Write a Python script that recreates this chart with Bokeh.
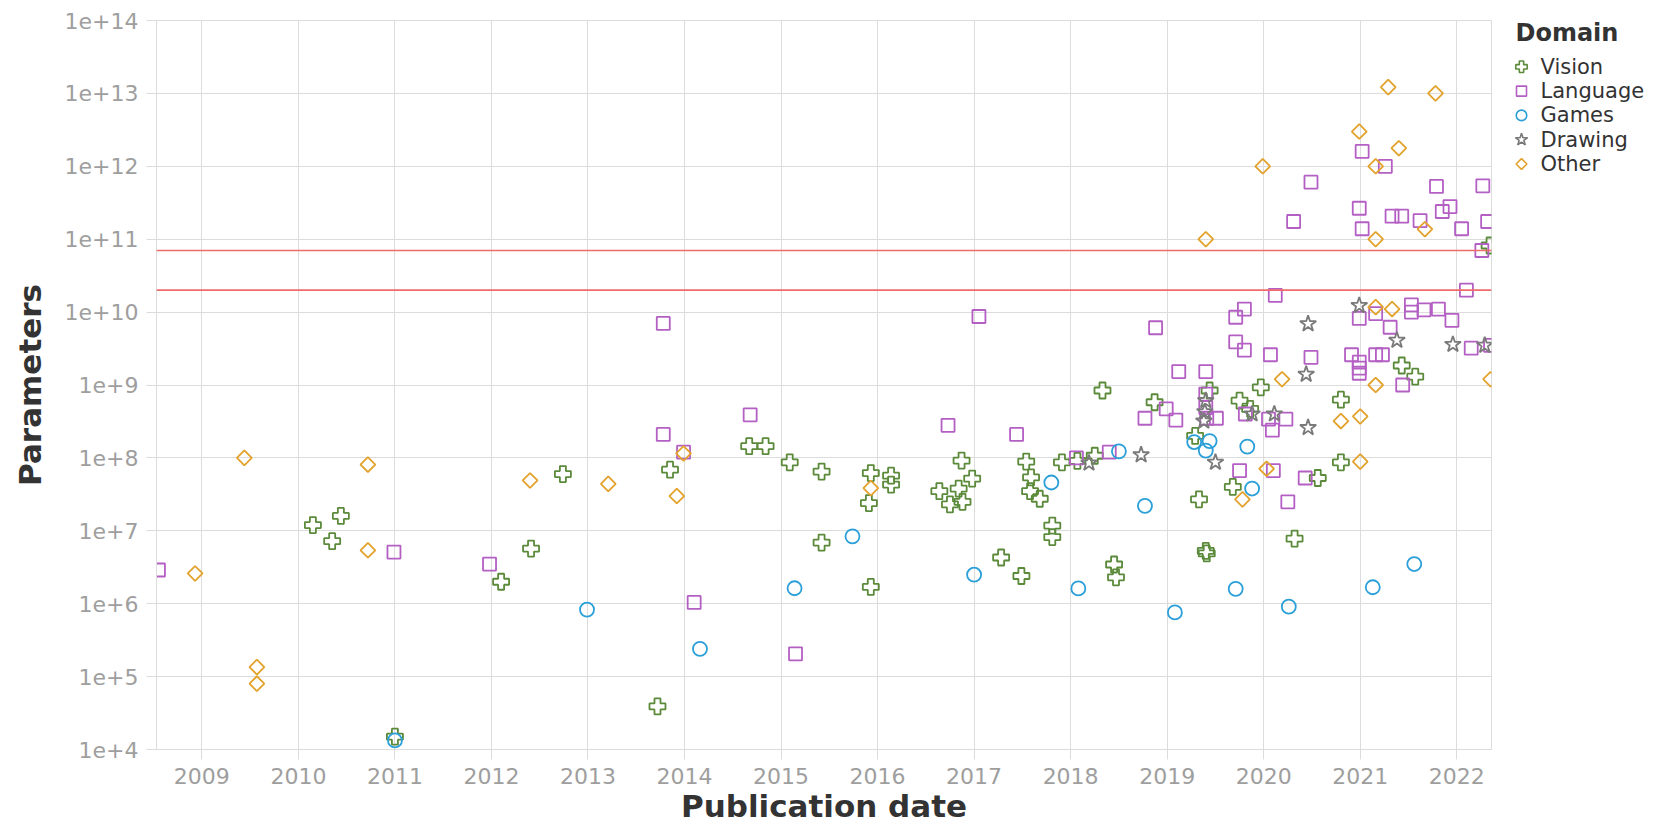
import math
from bokeh.plotting import figure
from bokeh.layouts import row
from bokeh.models import (Range1d, FixedTicker, CustomJSTickFormatter, PrintfTickFormatter, Span)
from bokeh.core.properties import value
from bokeh.embed import file_html
from bokeh.resources import INLINE

# ---- data (decimal publication year, parameter count) ----
vision_date = [2010.15, 2010.35, 2010.44, 2011.00, 2012.10, 2012.41, 2012.74, 2013.72, 2013.85,
               2014.67, 2014.84, 2015.09, 2015.42, 2015.42, 2015.93, 2015.91, 2015.93, 2016.14,
               2016.14, 2016.64, 2016.75, 2016.84, 2016.88, 2016.87, 2016.98, 2017.28, 2017.49,
               2017.54, 2017.59, 2017.58, 2017.68, 2017.81, 2017.81, 2017.91, 2018.07, 2018.25,
               2018.33, 2018.45, 2018.47, 2018.87, 2019.33, 2019.29, 2019.40, 2019.41, 2019.44,
               2019.68, 2019.75, 2019.86, 2019.97, 2020.32, 2020.56, 2020.80, 2020.80, 2021.43,
               2021.57, 2022.34]
vision_params = [1.2e7, 7.2e6, 1.6e7, 1.5e4, 2.0e6, 5.7e6, 6.0e7, 3.9e4, 6.9e7,
                 1.45e8, 1.45e8, 8.7e7, 6.5e7, 6.9e6, 6.2e7, 2.4e7, 1.7e6, 5.7e7,
                 4.3e7, 3.5e7, 2.3e7, 3.8e7, 2.5e7, 9.2e7, 5.2e7, 4.3e6, 2.4e6,
                 8.9e7, 5.4e7, 3.5e7, 2.75e7, 1.18e7, 8.2e6, 8.7e7, 9.1e7, 1.07e8,
                 8.4e8, 3.45e6, 2.3e6, 5.8e8, 2.7e7, 2.0e8, 5.3e6, 4.9e6, 8.4e8,
                 4.0e7, 6.1e8, 4.7e8, 9.3e8, 7.8e6, 5.3e7, 8.7e7, 6.3e8, 1.85e9,
                 1.3e9, 8.2e10]

language_date = [2008.55, 2010.99, 2011.98, 2013.78, 2013.78, 2013.99, 2014.10, 2014.68, 2015.15,
                 2016.73, 2017.05, 2017.44, 2018.06, 2018.40, 2018.77, 2018.88, 2018.99, 2019.09,
                 2019.12, 2019.40, 2019.40, 2019.40, 2019.41, 2019.51, 2019.71, 2019.80, 2019.71,
                 2019.80, 2019.81, 2019.75, 2020.07, 2020.12, 2020.05, 2020.09, 2020.10, 2020.23,
                 2020.25, 2020.31, 2020.43, 2020.49, 2020.49, 2020.91, 2020.99, 2021.02, 2021.02,
                 2020.99, 2020.99, 2020.99, 2020.99, 2021.16, 2021.16, 2021.23, 2021.26, 2021.33,
                 2021.43, 2021.31, 2021.44, 2021.53, 2021.53, 2021.62, 2021.66, 2021.79, 2021.81,
                 2021.85, 2021.93, 2021.95, 2022.05, 2022.10, 2022.15, 2022.26, 2022.27, 2022.32,
                 2022.35]
language_params = [2.9e6, 5.1e6, 3.5e6, 7.0e9, 2.1e8, 1.2e8, 1.04e6, 3.9e8, 2.05e5,
                   2.8e8, 8.7e9, 2.1e8, 1.0e8, 1.2e8, 3.5e8, 6.1e9, 4.7e8, 3.3e8,
                   1.53e9, 1.53e9, 7.5e8, 4.9e8, 3.5e8, 3.5e8, 8.5e9, 1.1e10, 3.9e9,
                   3.0e9, 4.0e8, 6.7e7, 2.6e9, 1.7e10, 3.4e8, 2.4e8, 6.7e7, 3.4e8,
                   2.5e7, 1.75e11, 5.3e7, 6.05e11, 2.4e9, 2.6e9, 2.66e11, 1.6e12, 1.39e11,
                   8.2e9, 2.06e9, 1.7e9, 1.45e9, 9.5e9, 2.6e9, 2.6e9, 1.0e12, 2.07e11,
                   2.07e11, 6.2e9, 1.0e9, 1.26e10, 1.0e10, 1.8e11, 1.07e10, 5.3e11, 1.1e10,
                   2.4e11, 2.8e11, 7.7e9, 1.39e11, 2.0e10, 3.2e9, 7.0e10, 5.4e11, 1.75e11,
                   3.5e9]

games_date = [2011.00, 2012.99, 2014.16, 2015.14, 2015.74, 2017.00, 2017.80, 2018.08, 2018.50,
              2018.77, 2019.08, 2019.28, 2019.44, 2019.40, 2019.71, 2019.83, 2019.88, 2020.26,
              2021.13, 2021.56]
games_params = [1.33e4, 8.3e5, 2.4e5, 1.63e6, 8.4e6, 2.5e6, 4.6e7, 1.62e6, 1.23e8,
                2.2e7, 7.6e5, 1.65e8, 1.7e8, 1.26e8, 1.6e6, 1.43e8, 3.8e7, 9.1e5,
                1.68e6, 3.5e6]

drawing_date = [2018.19, 2018.73, 2019.40, 2019.39, 2019.38, 2019.50, 2019.88, 2020.11, 2020.44,
                2020.46, 2020.46, 2020.99, 2021.38, 2021.96, 2022.29]
drawing_params = [8.5e7, 1.1e8, 6.1e8, 4.3e8, 3.2e8, 8.7e7, 4.0e8, 4.0e8, 1.4e9,
                  2.6e8, 6.9e9, 1.23e10, 4.1e9, 3.6e9, 3.5e9]

other_date = [2008.93, 2009.44, 2009.57, 2009.57, 2010.72, 2010.72, 2012.40, 2013.21, 2013.92,
              2013.99, 2015.93, 2019.40, 2019.78, 2019.99, 2020.03, 2020.19, 2020.80, 2021.00,
              2021.00, 2020.99, 2021.16, 2021.16, 2021.16, 2021.16, 2021.29, 2021.33, 2021.40,
              2021.67, 2021.78, 2022.35]
other_params = [2.6e6, 1.0e8, 1.35e5, 8.0e4, 8.1e7, 5.4e6, 4.9e7, 4.4e7, 3.0e7,
                1.15e8, 3.85e7, 1.0e11, 2.7e7, 1.0e12, 7.1e7, 1.2e9, 3.2e8, 8.9e7,
                3.7e8, 3.0e12, 1.0e12, 1.0e11, 1.17e10, 1.0e9, 1.22e13, 1.1e10, 1.77e12,
                1.37e11, 1.0e13, 1.2e9]

domains = ["Vision", "Language", "Games", "Drawing", "Other"]
threshold_lines = [7e10, 2e10]
year_ticks = list(range(2009, 2023))
param_ticks = [10 ** k for k in range(4, 15)]

# ---- styles ----
FONT = "DejaVu Sans"
GRID = "#dcdcdc"
COLORS = {"Vision": "#5b8a3a", "Language": "#b45fc4", "Games": "#2b9fd8",
          "Drawing": "#7a7a7a", "Other": "#e3a22c"}
# marker, size in plot, size in key, rotation
MARKERS = {"Vision": ("plus", 16, 11.5, 0.0), "Language": ("square", 13, 10, 0.0),
           "Games": ("circle", 14, 10.5, 0.0), "Drawing": ("star", 17, 13, 0.0),
           "Other": ("square", 10.5, 7.6, math.pi / 4)}
LW = 1.8

H = 831
MAIN_W = 1495
TOP, FRAME_H = 20, 729
p = figure(width=MAIN_W, height=H,
           x_range=Range1d(2008.53, 2022.36), y_range=Range1d(1e4, 1e14),
           y_axis_type="log", output_backend="svg", toolbar_location=None,
           min_border_left=156, min_border_right=4, min_border_top=TOP,
           min_border_bottom=H - TOP - FRAME_H)
p.background_fill_color = "white"
p.border_fill_color = "white"
p.outline_line_color = GRID

xt = FixedTicker(ticks=year_ticks, minor_ticks=[])
yt = FixedTicker(ticks=param_ticks, minor_ticks=[])
p.xaxis.ticker = xt
p.xgrid.ticker = xt
p.yaxis.ticker = yt
p.ygrid.ticker = yt
p.xaxis.formatter = PrintfTickFormatter(format="%d")
p.yaxis.formatter = CustomJSTickFormatter(code="return '1e+' + Math.round(Math.log10(tick));")

for ax in (p.xaxis[0], p.yaxis[0]):
    ax.axis_line_color = GRID
    ax.major_tick_line_color = GRID
    ax.major_tick_in = 0
    ax.major_tick_out = 10
    ax.minor_tick_line_color = None
    ax.major_label_text_font = FONT
    ax.major_label_text_font_size = "22px"
    ax.major_label_text_color = "#9e9e9e"
    ax.axis_label_text_font = FONT
    ax.axis_label_text_font_size = "31px"
    ax.axis_label_text_font_style = "bold"
    ax.axis_label_text_color = "#333333"
p.xaxis.axis_label = "Publication date"
p.yaxis.axis_label = "Parameters"
p.xaxis.major_label_standoff = 8
p.xaxis.axis_label_standoff = 1
p.yaxis.major_label_standoff = 8
p.yaxis.axis_label_standoff = 14

p.xgrid.grid_line_color = GRID
p.ygrid.grid_line_color = GRID

for lvl in threshold_lines:
    p.add_layout(Span(location=lvl, dimension="width", line_color="#f26b6b", line_width=1.6))

series = {"Vision": (vision_date, vision_params),
          "Language": (language_date, language_params),
          "Games": (games_date, games_params),
          "Drawing": (drawing_date, drawing_params),
          "Other": (other_date, other_params)}
for name in domains:
    xs, ys = series[name]
    mk, sz, _, ang = MARKERS[name]
    p.scatter(xs, ys, marker=mk, size=sz, angle=ang, fill_alpha=0,
              line_color=COLORS[name], line_width=LW)

# ---- key panel (legend) to the right of the plot ----
# its frame is aligned with the main frame (canvas y TOP .. TOP+FRAME_H), so map pixels 1:1
KEY_W = 1652 - MAIN_W
k = figure(width=KEY_W, height=H, x_range=Range1d(0, KEY_W),
           y_range=Range1d(TOP + FRAME_H, TOP),
           output_backend="svg", toolbar_location=None,
           x_axis_location=None, y_axis_location=None,
           min_border_left=0, min_border_right=0, min_border_top=TOP,
           min_border_bottom=H - TOP - FRAME_H)
k.xgrid.visible = False
k.ygrid.visible = False
k.outline_line_color = None
k.background_fill_color = "white"
k.border_fill_color = "white"

TITLE_X, TITLE_Y = 20, 32
ROW0_Y, ROW_STEP = 66.3, 24.3
GLYPH_X, LABEL_X = 26, 45
k.text([TITLE_X], [TITLE_Y], text=["Domain"], text_font=value(FONT), text_font_size="24px",
       text_font_style="bold", text_color="#333333", text_baseline="middle", text_align="left")
for i, name in enumerate(domains):
    mk, _, ksz, ang = MARKERS[name]
    yy = ROW0_Y + ROW_STEP * i
    k.scatter([GLYPH_X], [yy], marker=mk, size=ksz, angle=ang, fill_alpha=0,
              line_color=COLORS[name], line_width=1.6)
    k.text([LABEL_X], [yy], text=[name], text_font=value(FONT), text_font_size="21px",
           text_color="#333333", text_baseline="middle", text_align="left")

layout = row(p, k)
open("out.html", "w").write(file_html(layout, INLINE))
